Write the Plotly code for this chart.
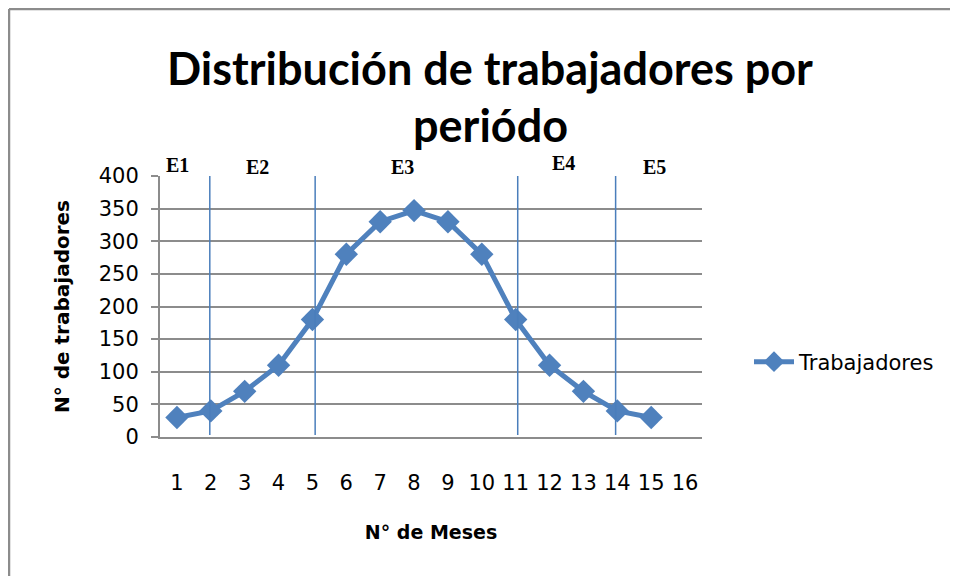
import plotly.graph_objects as go

months = list(range(1, 16))
workers = [30, 40, 70, 110, 180, 280, 330, 347, 330, 280, 180, 110, 70, 40, 30]
x_ticks = list(range(1, 17))
y_ticks = [0, 50, 100, 150, 200, 250, 300, 350, 400]
period_bounds = [1.97, 5.08, 11.06, 13.95]
period_labels = ["E1", "E2", "E3", "E4", "E5"]
period_label_x = [1.03, 3.39, 7.67, 12.42, 15.1]
period_label_y = [1.043, 1.034, 1.034, 1.05, 1.034]
title_lines = ["Distribución de trabajadores por", "periódo"]

OFF = 8  # page body margin
W, H = 950, 568
L, R, T, B = 152, 256, 168, 139
PW, PH = W - L - R, H - T - B


def px2x(ix):
    return (ix - OFF - L) / PW


def py2y(iy):
    return (H - B - (iy - OFF)) / PH


blue = "#4F81BD"
grid = "#8C8C8C"
tfont = "Lato, 'Open Sans', sans-serif"
font = "'DejaVu Sans', sans-serif"

fig = go.Figure()
fig.add_trace(go.Scatter(
    x=months, y=workers, mode="lines+markers", name="Trabajadores",
    line=dict(color=blue, width=5),
    marker=dict(symbol="diamond", size=18, color=blue),
))

for xb in period_bounds:
    fig.add_shape(type="line", xref="x", yref="y", x0=xb, x1=xb, y0=3, y1=400,
                  line=dict(color="#4A7EBB", width=1.5), layer="above")

for lab, lx, ly in zip(period_labels, period_label_x, period_label_y):
    fig.add_annotation(text="<b>" + lab + "</b>", x=lx, y=ly, xref="x", yref="paper",
                       xanchor="center", yanchor="middle",
                       showarrow=False, font=dict(family="'Liberation Serif', serif", size=20, color="black"))

for i, t in enumerate(title_lines):
    fig.add_annotation(text="<b>" + t + "</b>", x=px2x(490), y=py2y(68 + 57 * i),
                       xref="paper", yref="paper", yanchor="middle", xanchor="center",
                       showarrow=False, font=dict(family=tfont, size=45, color="black"))

fig.update_layout(
    width=W, height=H,
    margin=dict(l=L, r=R, t=T, b=B, autoexpand=False),
    paper_bgcolor="white", plot_bgcolor="white",
    font=dict(family=font, size=21, color="black"),
    showlegend=True,
    legend=dict(x=px2x(749), y=py2y(362), xanchor="left", yanchor="middle",
                font=dict(size=21), bgcolor="rgba(0,0,0,0)", itemwidth=40),
    xaxis=dict(range=[0.5, 16.5], tickmode="array", tickvals=x_ticks, ticktext=[str(v) for v in x_ticks],
               showgrid=False, zeroline=False, showline=True, linecolor=grid, linewidth=2,
               ticks="", ticklabelstandoff=26,
               title=dict(text="<b>N° de Meses</b>", font=dict(size=19), standoff=31)),
    yaxis=dict(range=[0, 400], tickmode="array", tickvals=y_ticks,
               showgrid=True, gridcolor=grid, gridwidth=2, zeroline=False,
               showline=True, linecolor=grid, linewidth=2, ticks="outside", ticklen=7, tickcolor=grid,
               tickwidth=2, ticklabelstandoff=8,
               title=dict(text="<b>N° de trabajadores</b>", font=dict(size=20), standoff=24)),
)

# outer frame (left and top edges visible)
fx = px2x(9)
fy = (H - B - 1) / PH
fig.add_shape(type="line", xref="paper", yref="paper", x0=fx, x1=(W - L) / PW, y0=fy, y1=fy,
              line=dict(color="#8C8C8C", width=2.5))
fig.add_shape(type="line", xref="paper", yref="paper", x0=fx, x1=fx, y0=fy, y1=-B / PH,
              line=dict(color="#8C8C8C", width=2.5))

fig.write_html("out.html")
